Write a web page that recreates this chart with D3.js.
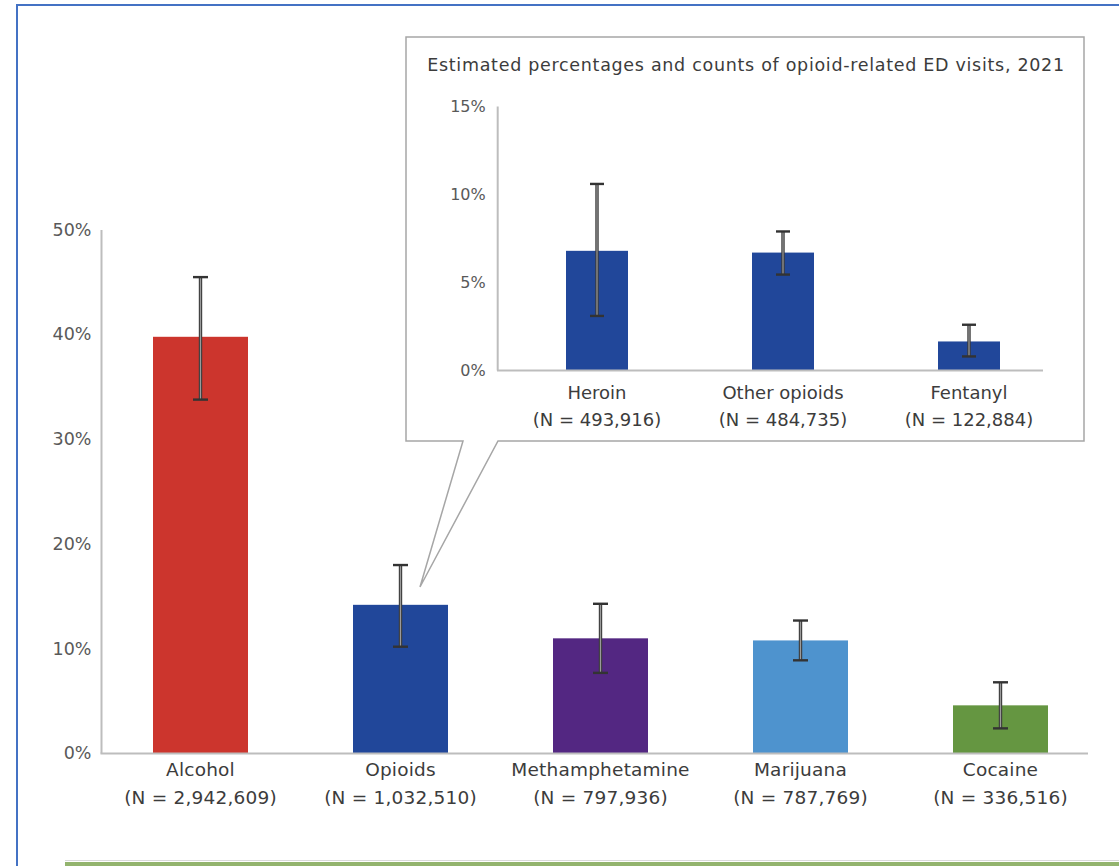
<!DOCTYPE html>
<html>
<head>
<meta charset="utf-8">
<script src="https://cdn.jsdelivr.net/npm/d3@7"></script>
<style>
  html, body { margin: 0; padding: 0; background: #fff; }
  svg { display: block; }
  text { font-family: "DejaVu Sans", Verdana, sans-serif; }
</style>
</head>
<body>
<svg id="chart" width="1119" height="866"></svg>
<script>
// Substance-related ED visits, 2021 (percent with 95% CI)
const categories = ["Alcohol", "Opioids", "Methamphetamine", "Marijuana", "Cocaine"];
const counts = ["2,942,609", "1,032,510", "797,936", "787,769", "336,516"];
const percents = [39.8, 14.2, 11.0, 10.8, 4.6];
const lowerCI = [33.8, 10.2, 7.7, 8.9, 2.4];
const upperCI = [45.5, 18.0, 14.3, 12.7, 6.8];
const barColors = ["#cc352d", "#21479a", "#532782", "#4e93ce", "#659641"];
const yTicks = [0, 10, 20, 30, 40, 50];

// Opioid breakdown
const opioidTypes = ["Heroin", "Other opioids", "Fentanyl"];
const opioidCounts = ["493,916", "484,735", "122,884"];
const opioidPercents = [6.8, 6.7, 1.65];
const opioidLower = [3.1, 5.45, 0.8];
const opioidUpper = [10.6, 7.9, 2.6];
const insetTicks = [0, 5, 10, 15];
const insetTitle = "Estimated percentages and counts of opioid-related ED visits, 2021";

const svg = d3.select("#chart");
const textColor = "#3c3c3c";
const axisColor = "#bdbdbd";

// page frame
svg.append("rect")
  .attr("x", 17).attr("y", 5).attr("width", 1200).attr("height", 1000)
  .attr("fill", "none").attr("stroke", "#4472c4").attr("stroke-width", 2);
svg.append("line").attr("x1", 65).attr("x2", 1119).attr("y1", 860.5).attr("y2", 860.5)
  .attr("stroke", "#d9d9d9").attr("stroke-width", 1);
svg.append("rect").attr("x", 65).attr("y", 862).attr("width", 1054).attr("height", 4)
  .attr("fill", "#93b46e");

// ---------- main chart ----------
const x = d3.scaleBand().domain(categories).range([100.5, 1100.5])
  .paddingInner(0.525).paddingOuter(0.2625);
const y = d3.scaleLinear().domain([0, 50]).range([753.5, 230]);

const main = svg.append("g");

main.append("line").attr("x1", 101.5).attr("x2", 101.5).attr("y1", y(50)).attr("y2", y(0))
  .attr("stroke", axisColor).attr("stroke-width", 2);

const yAxis = main.append("g").attr("transform", "translate(101.5,0)")
  .call(d3.axisLeft(y).tickValues(yTicks).tickSize(0).tickPadding(10).tickFormat(d => d + "%"));
yAxis.select(".domain").remove();
yAxis.selectAll("text").attr("fill", "#595959").style("font-size", "17.5px")
  .style("font-family", "DejaVu Sans").attr("dy", "0.3em");

main.selectAll("rect.bar").data(categories).join("rect")
  .attr("class", "bar")
  .attr("x", d => x(d)).attr("width", x.bandwidth())
  .attr("y", (d, i) => y(percents[i]))
  .attr("height", (d, i) => y(0) - y(percents[i]))
  .attr("fill", (d, i) => barColors[i]);

main.append("line").attr("x1", 100.5).attr("x2", 1088).attr("y1", y(0)).attr("y2", y(0))
  .attr("stroke", axisColor).attr("stroke-width", 2);

function errorBars(g, scaleX, scaleY, keys, lo, hi, capW) {
  const eb = g.selectAll("g.err").data(keys).join("g").attr("class", "err")
    .attr("transform", d => `translate(${scaleX(d) + scaleX.bandwidth() / 2},0)`);
  eb.append("line").attr("y1", (d, i) => scaleY(lo[i])).attr("y2", (d, i) => scaleY(hi[i]))
    .attr("stroke", "#3a3a3a").attr("stroke-width", 3.4);
  eb.append("line").attr("y1", (d, i) => scaleY(lo[i])).attr("y2", (d, i) => scaleY(hi[i]))
    .attr("stroke", "#9a9a9a").attr("stroke-width", 1.2);
  [lo, hi].forEach(arr => {
    eb.append("line").attr("x1", -capW / 2).attr("x2", capW / 2)
      .attr("y1", (d, i) => scaleY(arr[i])).attr("y2", (d, i) => scaleY(arr[i]))
      .attr("stroke", "#333").attr("stroke-width", 2.4);
  });
}
errorBars(main, x, y, categories, lowerCI, upperCI, 15);

const labels = main.selectAll("text.cat").data(categories).join("text")
  .attr("class", "cat")
  .attr("text-anchor", "middle").attr("fill", textColor)
  .style("font-size", "18.5px").style("letter-spacing", "0.2px");
labels.append("tspan").attr("x", d => x(d) + x.bandwidth() / 2).attr("y", 776).text(d => d);
labels.append("tspan").attr("x", d => x(d) + x.bandwidth() / 2).attr("y", 804)
  .text((d, i) => `(N = ${counts[i]})`);

// ---------- callout with opioid breakdown ----------
const inset = svg.append("g");
inset.append("path")
  .attr("d", "M406,37 H1084 V441 H498 L420,587 L463,441 H406 Z")
  .attr("fill", "#fff").attr("stroke", "#a6a6a6").attr("stroke-width", 1.5);

inset.append("text").attr("x", 746).attr("y", 71).attr("text-anchor", "middle")
  .attr("fill", textColor).style("font-size", "17.5px").style("letter-spacing", "0.7px")
  .text(insetTitle);

const xi = d3.scaleBand().domain(opioidTypes).range([504, 1062])
  .paddingInner(2 / 3).paddingOuter(1 / 3);
const yi = d3.scaleLinear().domain([0, 15]).range([370.5, 106.5]);

inset.append("line").attr("x1", 497.7).attr("x2", 497.7).attr("y1", yi(15)).attr("y2", yi(0))
  .attr("stroke", axisColor).attr("stroke-width", 2);
const yiAxis = inset.append("g").attr("transform", "translate(497.7,0)")
  .call(d3.axisLeft(yi).tickValues(insetTicks).tickSize(0).tickPadding(12).tickFormat(d => d + "%"));
yiAxis.select(".domain").remove();
yiAxis.selectAll("text").attr("fill", "#595959").style("font-size", "16px")
  .style("font-family", "DejaVu Sans").attr("dy", "0.3em");

inset.selectAll("rect.bar").data(opioidTypes).join("rect")
  .attr("class", "bar")
  .attr("x", d => xi(d)).attr("width", xi.bandwidth())
  .attr("y", (d, i) => yi(opioidPercents[i]))
  .attr("height", (d, i) => yi(0) - yi(opioidPercents[i]))
  .attr("fill", "#21479a");

inset.append("line").attr("x1", 497).attr("x2", 1043).attr("y1", yi(0)).attr("y2", yi(0))
  .attr("stroke", axisColor).attr("stroke-width", 2);

errorBars(inset, xi, yi, opioidTypes, opioidLower, opioidUpper, 14);

const ilabels = inset.selectAll("text.cat").data(opioidTypes).join("text")
  .attr("class", "cat").attr("text-anchor", "middle").attr("fill", textColor)
  .style("font-size", "18px");
ilabels.append("tspan").attr("x", d => xi(d) + xi.bandwidth() / 2).attr("y", 399).text(d => d);
ilabels.append("tspan").attr("x", d => xi(d) + xi.bandwidth() / 2).attr("y", 426)
  .text((d, i) => `(N = ${opioidCounts[i]})`);
</script>
</body>
</html>
